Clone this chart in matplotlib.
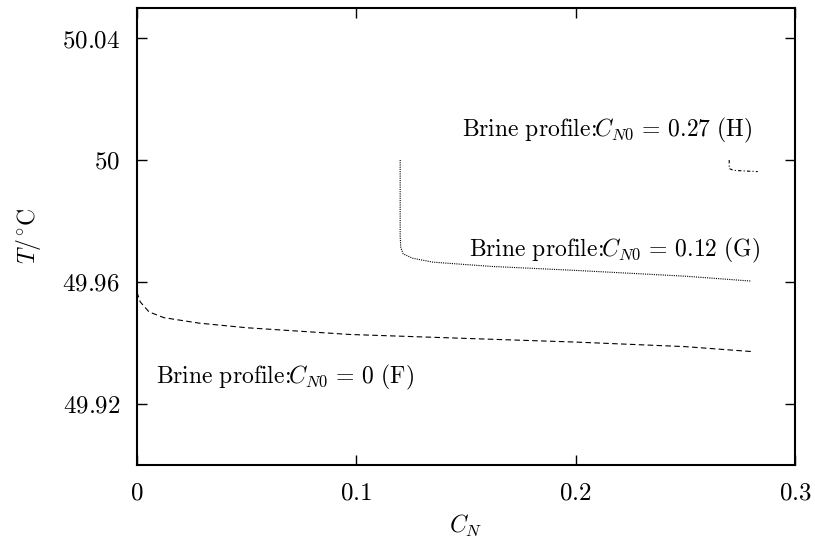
import matplotlib
matplotlib.use("Agg")
from matplotlib import pyplot as plt
from matplotlib.ticker import FuncFormatter

plt.rcParams.update({"mathtext.fontset": "cm", "font.family": "serif", "font.size": 17})

# Brine profile F (C_N0 = 0)
f_x = [0.0, 0.0015, 0.0055, 0.0123, 0.0284, 0.05, 0.0968, 0.15, 0.2, 0.25, 0.28]
f_y = [49.9567, 49.9535, 49.9502, 49.9483, 49.9465, 49.9450, 49.9428, 49.9415, 49.9403, 49.9388, 49.9372]

# Brine profile G (C_N0 = 0.12)
g_x = [0.12, 0.12, 0.1203, 0.1214, 0.1256, 0.135, 0.1617, 0.2, 0.25, 0.28]
g_y = [50.0, 49.975, 49.9712, 49.9692, 49.9678, 49.9665, 49.9651, 49.9638, 49.9619, 49.9603]

# Brine profile H (C_N0 = 0.27)
h_x = [0.27, 0.27, 0.272, 0.277, 0.283]
h_y = [50.0, 49.9972, 49.9966, 49.9964, 49.9962]

x_ticks = [0, 0.1, 0.2, 0.3]
y_ticks = [49.92, 49.96, 50.0, 50.04]

fig = plt.figure(figsize=(8.15, 5.48), dpi=100)
ax = fig.add_axes([0.168, 0.1515, 0.8075, 0.8348])

ax.plot(f_x, f_y, color="black", lw=0.8, ls=(0, (5, 3)))
ax.plot(g_x, g_y, color="black", lw=0.8, ls=(0, (1, 1)))
ax.plot(h_x, h_y, color="black", lw=0.8, ls=(0, (3, 2, 1, 2)))

lbl = r"$\mathrm{Brine\ profile}\!:\!\!C_{N0}\,=\,%s\ \mathrm{(%s)}$"
ax.text(0.1484, 50.0097, lbl % ("0.27", "H"), va="center")
ax.text(0.1516, 49.9704, lbl % ("0.12", "G"), va="center")
ax.text(0.0087, 49.9287, lbl % ("0", "F"), va="center")

ax.set_xlim(0, 0.3)
ax.set_ylim(49.9, 50.05)
ax.set_xticks(x_ticks)
ax.set_yticks(y_ticks)
ax.xaxis.set_major_formatter(FuncFormatter(lambda v, p: r"$%g$" % round(v, 2)))
ax.yaxis.set_major_formatter(FuncFormatter(lambda v, p: r"$%g$" % round(v, 2)))
ax.tick_params(direction="in", length=7, width=1, top=True, right=True, pad=12, labelsize=18)
for s in ax.spines.values():
    s.set_linewidth(1.5)

ax.set_xlabel(r"$C_N$", labelpad=6)
ax.set_ylabel(r"$T/^{\circ}\mathrm{C}$", labelpad=14)

fig.savefig("out.png", dpi=100)
